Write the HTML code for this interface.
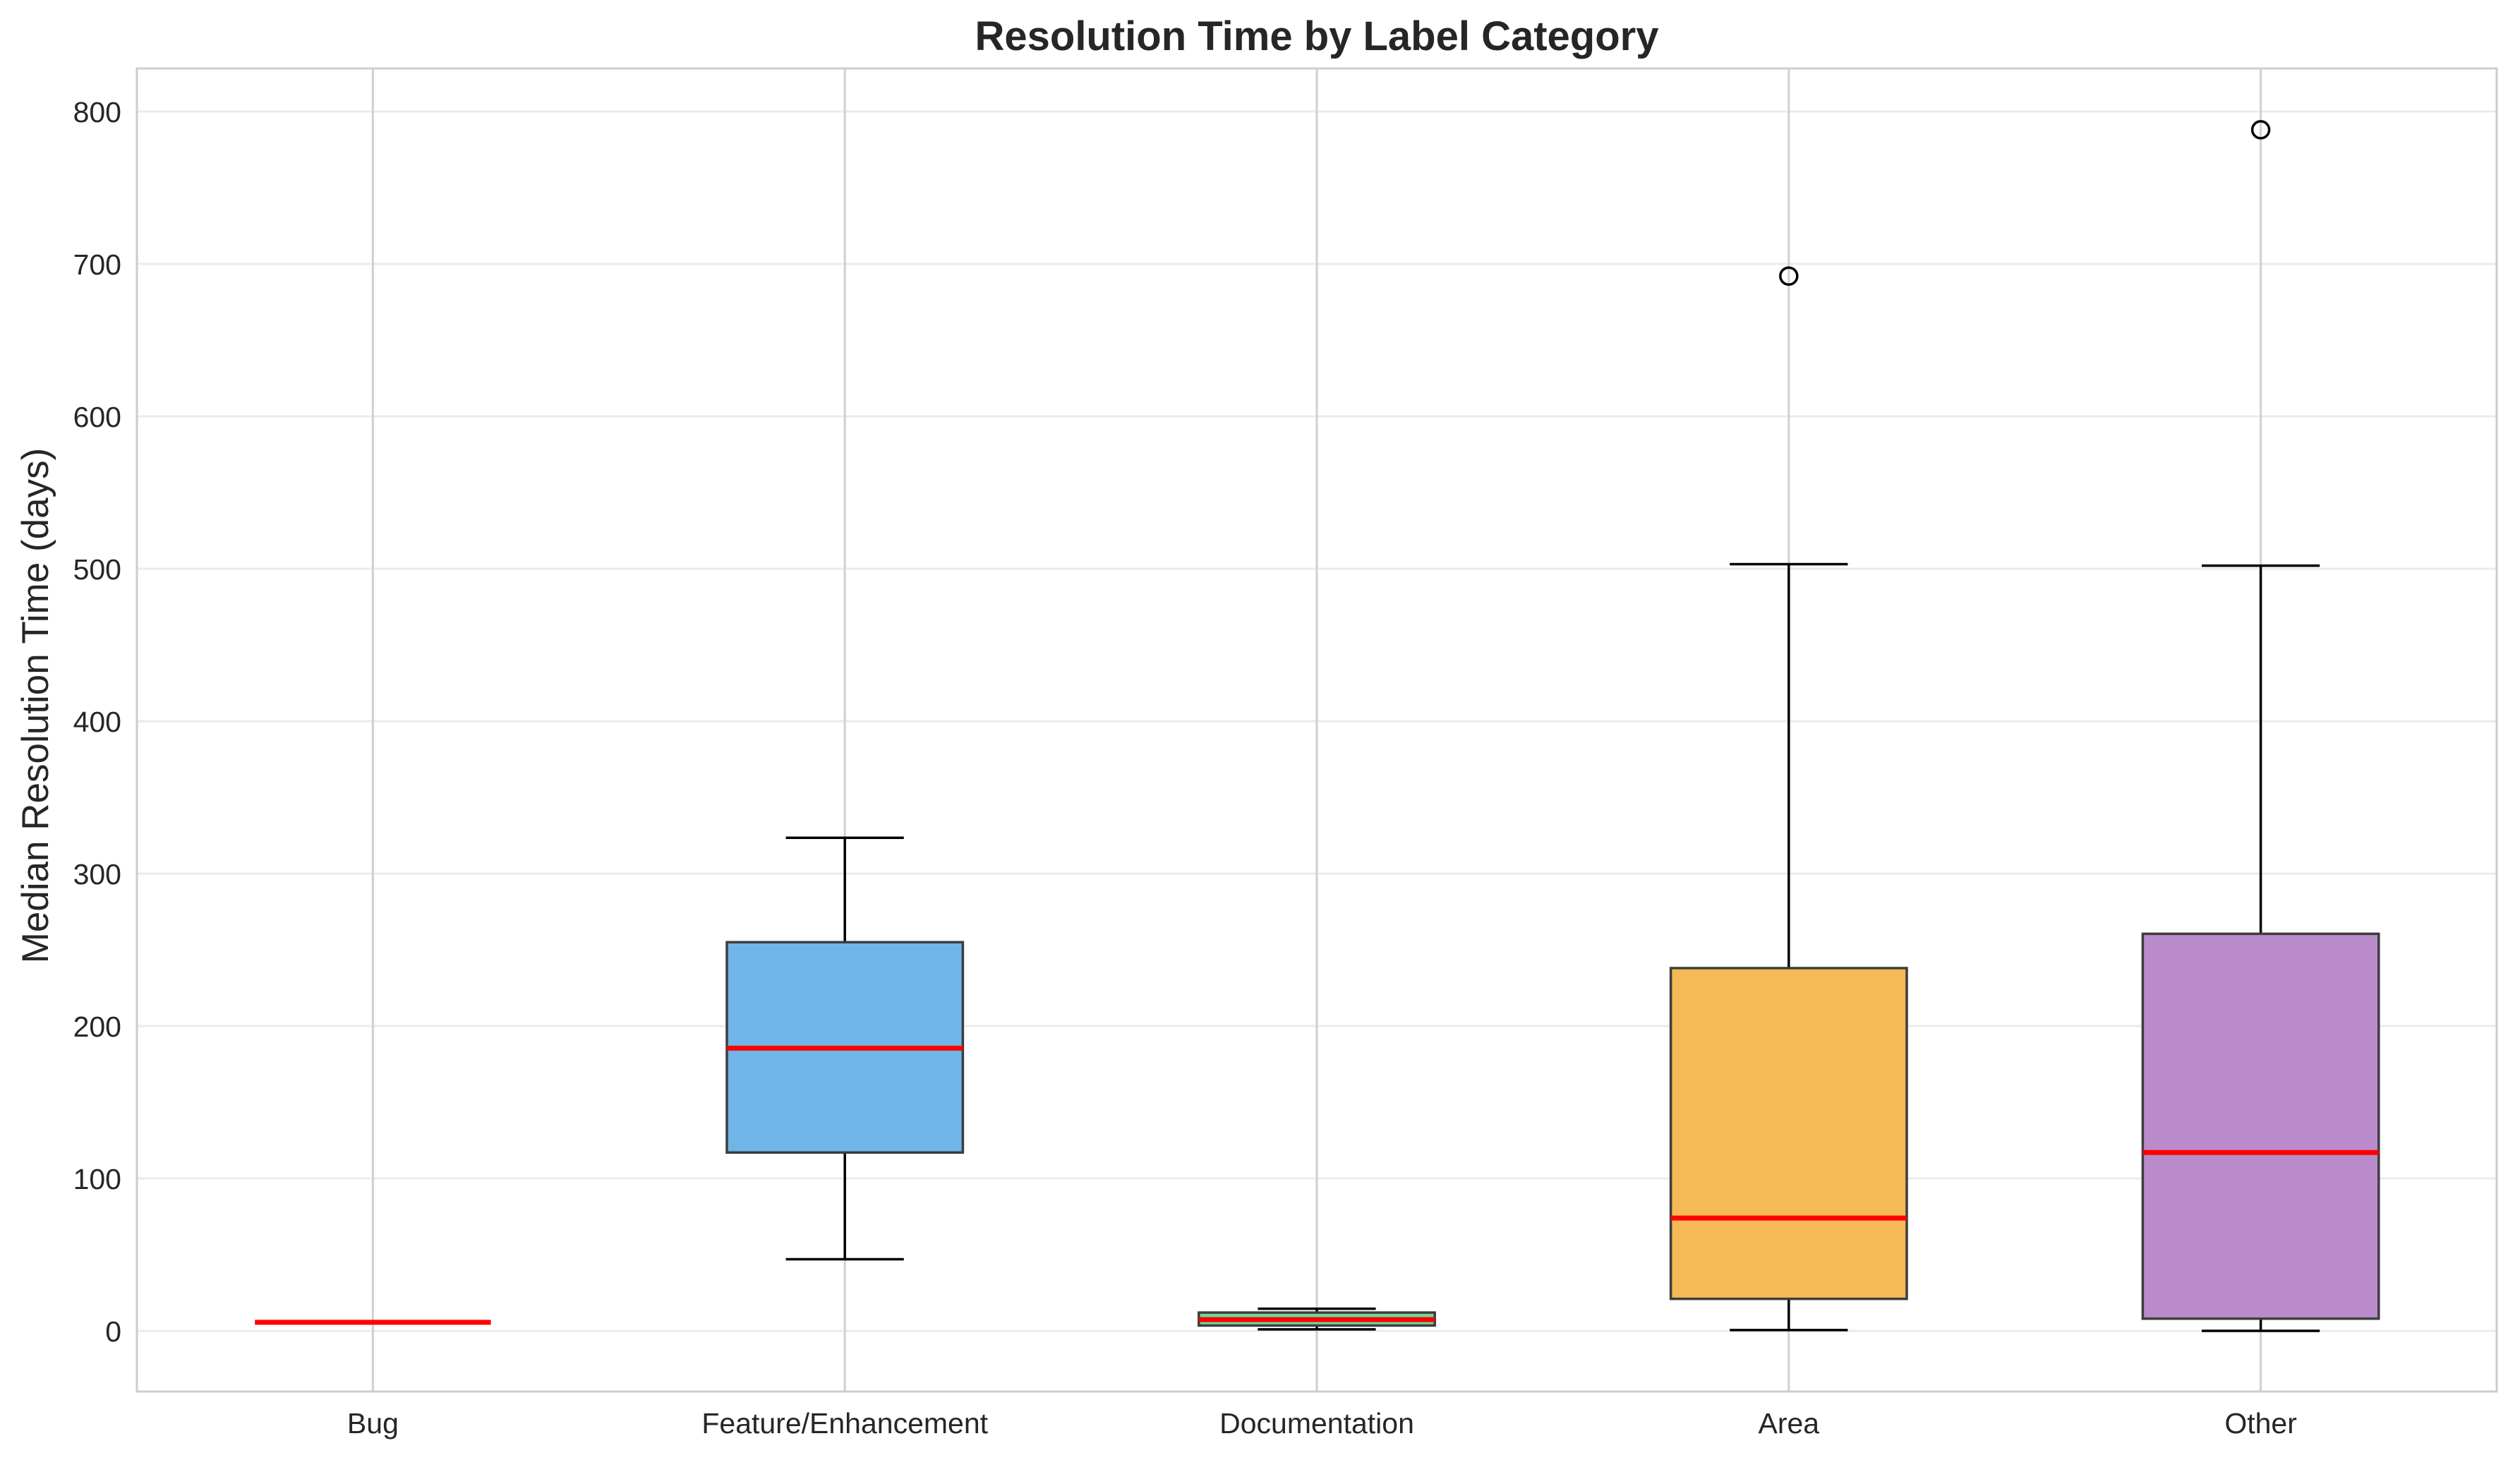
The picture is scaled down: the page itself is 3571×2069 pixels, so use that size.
<!DOCTYPE html>
<html><head><meta charset="utf-8"><style>
html,body{margin:0;padding:0;background:#fff}
svg{display:block;font-family:"Liberation Sans",Arial,sans-serif}
</style></head><body>
<svg id="chart" width="3571" height="2069" viewBox="0 0 3571 2069">
<rect width="3571" height="2069" fill="#fff"/>
<g id="grid"></g><g id="boxes"></g><g id="axes"></g>
<text x="1866" y="71" text-anchor="middle" font-size="58" font-weight="bold" fill="#262626">Resolution Time by Label Category</text>
<text transform="translate(68,1000) rotate(-90)" text-anchor="middle" font-size="53" fill="#262626">Median Resolution Time (days)</text>
</svg>
<script>
const categories = ["Bug","Feature/Enhancement","Documentation","Area","Other"];
const whiskerLow = [5.6, 47, 1, 0.5, 0];
const q1Values = [5.6, 117, 3.5, 21, 8];
const medians = [5.6, 185.5, 7.4, 74, 117];
const q3Values = [5.6, 255, 12, 238, 260.5];
const whiskerHigh = [5.6, 323.5, 14.5, 503, 502];
const outliers = [[], [], [], [692], [788]];
const fills = ["#6fb5e7","#6fb5e7","#6dd99b","#f5b955","#b98bca"];
const yTicks = [0,100,200,300,400,500,600,700,800];

const L=194, R=3538, T=97, B=1972;
const y0=1886, perUnit=2.16;
const yS = v => y0 - v*perUnit;
const step=(R-L)/categories.length;
const xS = i => L + step*(i+0.5);
const NS="http://www.w3.org/2000/svg";
function mk(tag, attrs, parent){const e=document.createElementNS(NS,tag);for(const k in attrs)e.setAttribute(k,attrs[k]);parent.appendChild(e);return e;}
const grid=document.getElementById('grid'), boxes=document.getElementById('boxes'), axes=document.getElementById('axes');

yTicks.forEach(t=>{
  const y=yS(t);
  const g=mk('line',{x1:L,x2:R,y1:y,y2:y,stroke:'#ebebeb','stroke-width':3},grid);
  
  
  const tx=mk('text',{x:172,y:y+15,'text-anchor':'end','font-size':41,fill:'#262626'},axes);
  tx.textContent=t;
  
  
});
categories.forEach((c,i)=>{
  const x=xS(i);
  const g=mk('line',{x1:x,x2:x,y1:T,y2:B,stroke:'#d0d0d0','stroke-width':3},grid);
  
  
  const tx=mk('text',{x:x,y:2031,'text-anchor':'middle','font-size':41,fill:'#262626'},axes);
  tx.textContent=c;
  
  
});
const frame=mk('rect',{x:L,y:T,width:R-L,height:B-T,fill:'none',stroke:'#cccccc','stroke-width':3},axes);



const bw=step*0.5, cw=step*0.25;
categories.forEach((c,i)=>{
  const x=xS(i);
  const g=mk('g',{},boxes);
  
  
  if(q3Values[i]>q1Values[i]){
    mk('line',{x1:x,x2:x,y1:yS(q3Values[i]),y2:yS(whiskerHigh[i]),stroke:'#000','stroke-width':3.5},g);
    mk('line',{x1:x,x2:x,y1:yS(q1Values[i]),y2:yS(whiskerLow[i]),stroke:'#000','stroke-width':3.5},g);
    mk('line',{x1:x-cw/2,x2:x+cw/2,y1:yS(whiskerHigh[i]),y2:yS(whiskerHigh[i]),stroke:'#000','stroke-width':3.5},g);
    mk('line',{x1:x-cw/2,x2:x+cw/2,y1:yS(whiskerLow[i]),y2:yS(whiskerLow[i]),stroke:'#000','stroke-width':3.5},g);
    mk('rect',{x:x-bw/2,y:yS(q3Values[i]),width:bw,height:yS(q1Values[i])-yS(q3Values[i]),fill:fills[i],stroke:'#3d3d3d','stroke-width':3.5},g);
  }
  mk('line',{x1:x-bw/2,x2:x+bw/2,y1:yS(medians[i]),y2:yS(medians[i]),stroke:'#ff0000','stroke-width':7},g);
  outliers[i].forEach(v=>{
    const o=mk('circle',{cx:x,cy:yS(v),r:12,fill:'none',stroke:'#000','stroke-width':3.5},boxes);
    
    
  });
});
</script>
</body></html>
